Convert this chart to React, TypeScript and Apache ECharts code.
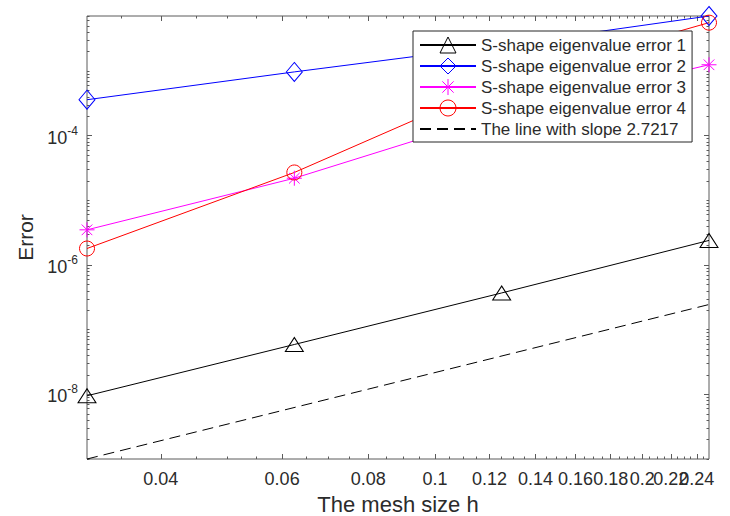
import React, { useEffect, useRef } from 'react';
import * as echarts from 'echarts';

// ---- data ----
const meshSizes = [0.03125, 0.0625, 0.125, 0.25];
const error1 = [9.5e-9, 5.9e-8, 3.7e-7, 2.4e-6];
const error2 = [3.6e-4, 9.7e-4, 2.5e-3, 7.1e-3];
const error3 = [3.5e-6, 2.2e-5, 2.2e-4, 1.25e-3];
const error4 = [1.8e-6, 2.7e-5, 6.8e-4, 5.6e-3];
const slopeLineX = [0.03125, 0.25];
const slopeLineY = [1.0e-9, 2.45e-7];

const seriesNames = [
  'S-shape eigenvalue error 1',
  'S-shape eigenvalue error 2',
  'S-shape eigenvalue error 3',
  'S-shape eigenvalue error 4',
  'The line with slope 2.7217',
];

const xRange = [0.03125, 0.25];
const yRange = [1e-9, 7.1e-3];

const xMajorTicks = [0.04, 0.06, 0.08, 0.1, 0.12, 0.14, 0.16, 0.18, 0.2, 0.22, 0.24];
// labels are split over two axes so that ECharts does not drop the overlapping ones
const xLabelsA = [0.04, 0.08, 0.12, 0.16, 0.2, 0.24];
const xLabelsB = [0.06, 0.1, 0.14, 0.18, 0.22];
const xMinorTicks = [
  0.035, 0.045, 0.05, 0.055, 0.065, 0.07, 0.075, 0.085, 0.09, 0.095, 0.105, 0.11, 0.115,
  0.125, 0.13, 0.135, 0.145, 0.15, 0.155, 0.165, 0.17, 0.175, 0.185, 0.19, 0.195, 0.205,
  0.21, 0.215, 0.225, 0.23, 0.235, 0.245,
];
const yMajorTicks = [1e-8, 1e-6, 1e-4];
const yDecades = [-9, -8, -7, -6, -5, -4, -3];
const yMultipliers = [1, 2, 3, 4, 5, 6, 7, 8, 9];

const FONT = '"Liberation Sans", Arial, Helvetica, sans-serif';
const AXIS_COLOR = '#5a5a5a';
const TEXT_COLOR = '#2b2b2b';

const yMinorTicks: number[] = [];
yDecades.forEach((d) =>
  yMultipliers.forEach((m) => {
    const v = m * Math.pow(10, d);
    if (v >= yRange[0] && v <= yRange[1]) yMinorTicks.push(v);
  })
);

const asterisk =
  'path://M5,0 L5,10 M0,5 L10,5 M1.46,1.46 L8.54,8.54 M1.46,8.54 L8.54,1.46';

function pairs(xs: number[], ys: number[]) {
  return xs.map((x, i) => [x, ys[i]]);
}

export default function App() {
  const ref = useRef<HTMLDivElement>(null);

  useEffect(() => {
    if (!ref.current) return;
    const chart = echarts.init(ref.current, null, { renderer: 'svg' });

    const gridRect = {
      left: 87,
      right: 21,
      top: 16,
      bottom: 57,
      containLabel: false,
      outerBoundsMode: 'none',
    };

    const xBase = (gridIndex: number, position: string) => ({
      type: 'log' as const,
      logBase: 10,
      gridIndex,
      position,
      min: xRange[0],
      max: xRange[1],
      axisLine: { show: false },
      splitLine: { show: false },
      minorTick: { show: false },
      minorSplitLine: { show: false },
    });
    const yBase = (gridIndex: number, position: string) => ({
      type: 'log' as const,
      logBase: 10,
      gridIndex,
      position,
      min: yRange[0],
      max: yRange[1],
      axisLine: { show: false },
      splitLine: { show: false },
      minorTick: { show: false },
      minorSplitLine: { show: false },
    });
    const majorTick = (vals: number[]) => ({
      show: true,
      inside: true,
      length: 5,
      customValues: vals,
      lineStyle: { color: AXIS_COLOR, width: 1 },
    });
    const minorTick = (vals: number[]) => ({
      show: true,
      inside: true,
      length: 2.5,
      customValues: vals,
      lineStyle: { color: AXIS_COLOR, width: 1 },
    });
    const xLabel = (vals: number[]) => ({
      customValues: vals,
      showMinLabel: true,
      showMaxLabel: true,
      hideOverlap: false,
      margin: 10,
      fontFamily: FONT,
      fontSize: 18,
      lineHeight: 20,
      color: TEXT_COLOR,
      formatter: (v: number) => String(parseFloat(Number(v).toFixed(3))),
    });

    const lineSeries = (
      name: string,
      ys: number[],
      color: string,
      symbol: string,
      symbolSize: any,
      extra: any = {}
    ) => ({
      name,
      type: 'line',
      xAxisIndex: 0,
      yAxisIndex: 0,
      data: pairs(meshSizes, ys),
      symbol,
      symbolSize,
      clip: false,
      lineStyle: { color, width: 1 },
      itemStyle: { color: 'rgba(0,0,0,0)', borderColor: color, borderWidth: 1 },
      emphasis: { disabled: true },
      ...extra,
    });

    chart.setOption({
      animation: false,
      backgroundColor: '#ffffff',
      textStyle: { fontFamily: FONT },
      grid: [
        { ...gridRect, show: true, borderColor: AXIS_COLOR, borderWidth: 1, backgroundColor: 'transparent' },
        { ...gridRect, show: false },
      ],
      xAxis: [
        {
          ...xBase(0, 'bottom'),
          name: 'The mesh size h',
          nameLocation: 'middle',
          nameGap: 29,
          nameTextStyle: { fontFamily: FONT, fontSize: 22, color: TEXT_COLOR },
          axisTick: majorTick(xMajorTicks),
          axisLabel: xLabel(xLabelsA),
        },
        {
          ...xBase(0, 'top'),
          axisTick: majorTick(xMajorTicks),
          axisLabel: { show: false },
        },
        {
          ...xBase(1, 'bottom'),
          axisTick: minorTick(xMinorTicks),
          axisLabel: xLabel(xLabelsB),
        },
        {
          ...xBase(1, 'top'),
          axisTick: minorTick(xMinorTicks),
          axisLabel: { show: false },
        },
      ],
      yAxis: [
        {
          ...yBase(0, 'left'),
          name: 'Error',
          nameLocation: 'middle',
          nameGap: 51,
          nameTextStyle: { fontFamily: FONT, fontSize: 21, color: TEXT_COLOR },
          axisTick: majorTick(yMajorTicks),
          axisLabel: {
            customValues: yMajorTicks,
            showMinLabel: true,
            showMaxLabel: true,
            margin: 9,
            fontFamily: FONT,
            color: TEXT_COLOR,
            formatter: (v: number) => {
              const e = Math.round(Math.log10(v));
              return `{b|10}{s|${e}}`;
            },
            rich: {
              b: { fontFamily: FONT, fontSize: 18, lineHeight: 22, verticalAlign: 'bottom', color: TEXT_COLOR },
              s: { fontFamily: FONT, fontSize: 12, lineHeight: 16, verticalAlign: 'top', color: TEXT_COLOR },
            },
          },
        },
        {
          ...yBase(0, 'right'),
          axisTick: majorTick(yMajorTicks),
          axisLabel: { show: false },
        },
        {
          ...yBase(1, 'left'),
          axisTick: minorTick(yMinorTicks),
          axisLabel: { show: false },
        },
        {
          ...yBase(1, 'right'),
          axisTick: minorTick(yMinorTicks),
          axisLabel: { show: false },
        },
      ],
      legend: {
        orient: 'vertical',
        left: 413,
        top: 31,
        padding: [5.5, 6, 4.5, 6],
        itemWidth: 56,
        itemHeight: 20,
        itemGap: 4,
        backgroundColor: '#ffffff',
        borderColor: '#262626',
        borderWidth: 1,
        borderRadius: 0,
        selectedMode: false,
        itemStyle: { borderWidth: 1 },
        textStyle: { fontFamily: FONT, fontSize: 17, color: TEXT_COLOR },
        data: [
          seriesNames[0],
          seriesNames[1],
          seriesNames[2],
          seriesNames[3],
          { name: seriesNames[4], itemStyle: { opacity: 0 } },
        ],
      },
      series: [
        lineSeries(seriesNames[0], error1, '#000000', 'triangle', [18, 14]),
        lineSeries(seriesNames[1], error2, '#0000ff', 'diamond', [16, 19]),
        lineSeries(seriesNames[2], error3, '#ff00ff', asterisk, 15),
        lineSeries(seriesNames[3], error4, '#ff0000', 'circle', 15),
        {
          name: seriesNames[4],
          type: 'line',
          xAxisIndex: 0,
          yAxisIndex: 0,
          data: pairs(slopeLineX, slopeLineY),
          symbol: 'none',
          clip: false,
          lineStyle: { color: '#000000', width: 1, type: [11, 6] },
          itemStyle: { color: 'rgba(0,0,0,0)' },
          emphasis: { disabled: true },
        },
      ],
    });

    return () => chart.dispose();
  }, []);

  return (
    <div
      ref={ref}
      style={{ position: 'fixed', left: 0, top: 0, width: 730, height: 516, background: '#fff' }}
    />
  );
}
